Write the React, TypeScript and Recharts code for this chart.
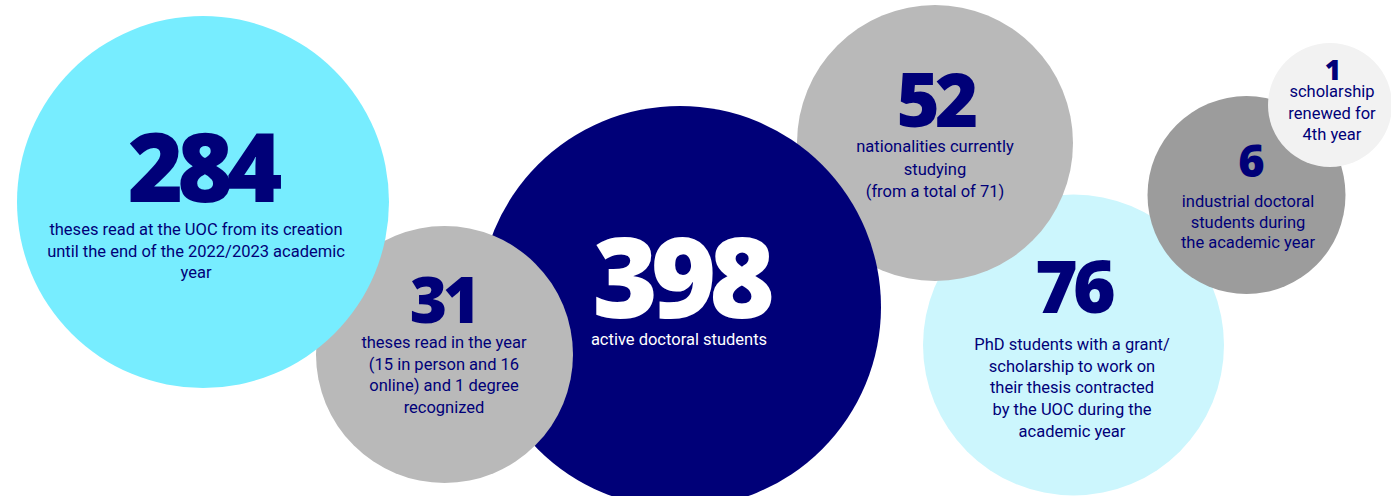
import React from 'react';
import { ScatterChart, Scatter, XAxis, YAxis } from 'recharts';

// headline figures and the text under each one
const figures = [284, 31, 398, 52, 76, 6, 1];
const captions = [
  ['theses read at the UOC from its creation', 'until the end of the 2022/2023 academic', 'year'],
  ['theses read in the year', '(15 in person and 16', 'online) and 1 degree', 'recognized'],
  ['active doctoral students'],
  ['nationalities currently', 'studying', '(from a total of 71)'],
  ['PhD students with a grant/', 'scholarship to work on', 'their thesis contracted', 'by the UOC during the', 'academic year'],
  ['industrial doctoral', 'students during', 'the academic year'],
  ['scholarship', 'renewed for', '4th year'],
];

// bubble layout (chart units == pixels)
const bubbleX = [203, 444.5, 680, 935, 1073.5, 1246.5, 1330];
const bubbleY = [202, 354.5, 307, 143, 345, 195, 105];
const bubbleR = [186, 128.5, 201, 138, 150.5, 99, 62];
const fills = ['#77EDFF', '#B9B9B9', '#000078', '#B9B9B9', '#CCF6FD', '#9C9C9C', '#F2F2F2'];
const inks = ['#000078', '#000078', '#FFFFFF', '#000078', '#000078', '#000078', '#000078'];
const numSize = [95, 64, 112, 74, 73, 45, 28];
const numDx = [-1, -1.5, 0, 0, -0.5, 3.5, 2];
const numDy = [0, -31.5, 11, -16, -32, -18, -25];
const capDx = [-7, -0.5, -1, 0, -1.5, 1.5, 2];
const capDy = [33, -6.5, 38, 9, 5, 12, -8];
const lineGap = [21.7, 21.7, 21.7, 22.5, 21.7, 20.7, 21.5];
// paint order, back to front
const drawOrder = [4, 3, 2, 1, 0, 5, 6];

const data = drawOrder.map((i) => ({
  x: bubbleX[i],
  y: bubbleY[i],
  r: bubbleR[i],
  value: figures[i],
  lines: captions[i],
  fill: fills[i],
  ink: inks[i],
  numSize: numSize[i],
  numDx: numDx[i],
  numDy: numDy[i],
  capDx: capDx[i],
  capDy: capDy[i],
  gap: lineGap[i],
}));

const Bubble = (props: any) => {
  const { cx, cy, payload } = props;
  const p = payload;
  return (
    <g>
      <circle cx={cx} cy={cy} r={p.r} fill={p.fill} />
      <text
        x={cx + p.numDx}
        y={cy + p.numDy}
        textAnchor="middle"
        fontFamily="'Open Sans', sans-serif"
        fontWeight={800}
        fontSize={p.numSize}
        letterSpacing={-p.numSize * 0.065}
        fill={p.ink}
      >
        {p.value}
      </text>
      {p.lines.map((line: string, k: number) => (
        <text
          key={k}
          x={cx + p.capDx}
          y={cy + p.capDy + k * p.gap}
          textAnchor="middle"
          fontFamily="Roboto, sans-serif"
          fontSize={16.5}
          fill={p.ink}
        >
          {line}
        </text>
      ))}
    </g>
  );
};

export default function App() {
  return (
    <div style={{ position: 'absolute', left: 0, top: 0, background: '#fff' }}>
      <ScatterChart width={1391} height={496} margin={{ top: 0, right: 0, bottom: 0, left: 0 }}>
        <XAxis type="number" dataKey="x" domain={[0, 1391]} hide />
        <YAxis type="number" dataKey="y" domain={[0, 496]} reversed hide />
        <Scatter data={data} shape={Bubble} isAnimationActive={false} />
      </ScatterChart>
    </div>
  );
}
